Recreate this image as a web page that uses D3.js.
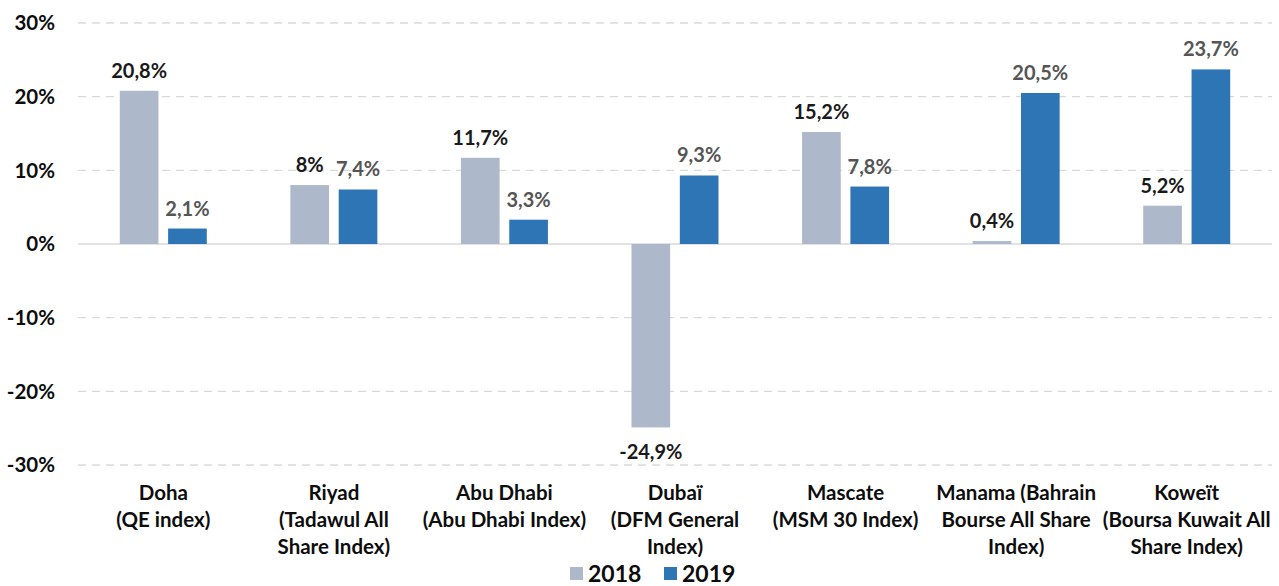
<!DOCTYPE html>
<html>
<head>
<meta charset="utf-8">
<script src="https://cdn.jsdelivr.net/npm/d3@7"></script>
<style>
  body { margin: 0; background: #fff; }
  text { font-family: "Lato", "Liberation Sans", Arial, sans-serif; font-weight: bold; }
</style>
</head>
<body>
<div id="chart"></div>
<script>
// data
const categories = [
  ["Doha", "(QE index)"],
  ["Riyad", "(Tadawul All", "Share Index)"],
  ["Abu Dhabi", "(Abu Dhabi Index)"],
  ["Dubaï", "(DFM General", "Index)"],
  ["Mascate", "(MSM 30 Index)"],
  ["Manama (Bahrain", "Bourse All Share", "Index)"],
  ["Koweït", "(Boursa Kuwait All", "Share Index)"]
];
const years = ["2018", "2019"];
const values2018 = [20.8, 8, 11.7, -24.9, 15.2, 0.4, 5.2];
const values2019 = [2.1, 7.4, 3.3, 9.3, 7.8, 20.5, 23.7];
const labels2018 = ["20,8%", "8%", "11,7%", "-24,9%", "15,2%", "0,4%", "5,2%"];
const labels2019 = ["2,1%", "7,4%", "3,3%", "9,3%", "7,8%", "20,5%", "23,7%"];
const yTicks = [-30, -20, -10, 0, 10, 20, 30];

const colors = {"2018": "#adb9ca", "2019": "#2e75b6"};
const labelColors = {"2018": "#1a1a1a", "2019": "#555555"};

const W = 1279, H = 586;
const margin = {top: 23, right: 7, bottom: 121, left: 78};
const width = W - margin.left - margin.right;
const height = H - margin.top - margin.bottom;

const svg = d3.select("#chart")
  .append("svg")
    .attr("width", W)
    .attr("height", H)
  .append("g")
    .attr("transform", `translate(${margin.left}, ${margin.top})`);

const names = categories.map(c => c.join(" "));

const x0 = d3.scaleBand()
  .domain(names)
  .range([0, width])
  .paddingInner(0.49)
  .paddingOuter(0.245);

const x1 = d3.scaleBand()
  .domain(years)
  .range([0, x0.bandwidth()])
  .paddingInner(0.2);

const y = d3.scaleLinear()
  .domain([-30, 30])
  .range([height, 0]);

// grid lines
svg.append("g")
  .selectAll("line")
  .data(yTicks)
  .join("line")
    .attr("x1", 0)
    .attr("x2", width)
    .attr("y1", d => y(d))
    .attr("y2", d => y(d))
    .attr("stroke", "#d9d9d9")
    .attr("stroke-width", 1.3)
    .attr("stroke-dasharray", d => d === 0 ? null : "8,6");

// y axis labels
svg.append("g")
  .selectAll("text")
  .data(yTicks)
  .join("text")
    .attr("x", -23)
    .attr("y", d => y(d))
    .attr("dy", "0.36em")
    .attr("text-anchor", "end")
    .attr("font-size", "20.5px")
    .attr("fill", "#0d0d0d")
    .text(d => d + "%");

const rows = names.map((n, i) => ({
  name: n,
  bars: [
    {year: "2018", value: values2018[i], label: labels2018[i]},
    {year: "2019", value: values2019[i], label: labels2019[i]}
  ]
}));

const groups = svg.append("g")
  .selectAll("g")
  .data(rows)
  .join("g")
    .attr("transform", d => `translate(${x0(d.name)}, 0)`);

groups.selectAll("rect")
  .data(d => d.bars)
  .join("rect")
    .attr("x", d => x1(d.year))
    .attr("width", x1.bandwidth())
    .attr("y", d => y(Math.max(0, d.value)))
    .attr("height", d => Math.abs(y(d.value) - y(0)))
    .attr("fill", d => colors[d.year]);

groups.selectAll("text.val")
  .data(d => d.bars)
  .join("text")
    .attr("class", "val")
    .attr("x", d => x1(d.year) + x1.bandwidth() / 2)
    .attr("y", d => d.value >= 0 ? y(d.value) - 13 : y(d.value) + 32)
    .attr("text-anchor", "middle")
    .attr("font-size", "20px")
    .attr("fill", d => labelColors[d.year])
    .text(d => d.label);

// category labels
const cat = svg.append("g")
  .selectAll("text")
  .data(categories)
  .join("text")
    .attr("x", (d, i) => x0(names[i]) + x0.bandwidth() / 2)
    .attr("y", height + 35)
    .attr("text-anchor", "middle")
    .attr("font-size", "20.5px")
    .attr("fill", "#0d0d0d");

cat.selectAll("tspan")
  .data(d => d)
  .join("tspan")
    .attr("x", function() { return d3.select(this.parentNode).attr("x"); })
    .attr("dy", (d, i) => i === 0 ? 0 : 27)
    .text(d => d);

// legend
const legend = svg.append("g")
  .attr("transform", `translate(${492}, ${H - margin.top - 12})`);

const legendItems = legend.selectAll("g")
  .data(years)
  .join("g")
    .attr("transform", (d, i) => `translate(${i * 94}, 0)`);

legendItems.append("rect")
  .attr("x", 0)
  .attr("y", -7)
  .attr("width", 13)
  .attr("height", 13)
  .attr("fill", d => colors[d]);

legendItems.append("text")
  .attr("x", 18)
  .attr("y", 0)
  .attr("dy", "0.36em")
  .attr("font-size", "23px")
  .attr("fill", "#0d0d0d")
  .text(d => d);
</script>
</body>
</html>
